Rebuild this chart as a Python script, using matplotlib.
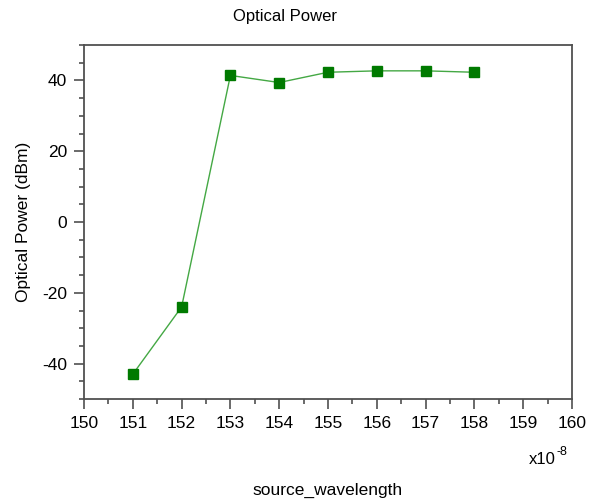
import matplotlib
matplotlib.use("Agg")
import matplotlib.pyplot as plt
from matplotlib.ticker import MultipleLocator

wavelength = [151, 152, 153, 154, 155, 156, 157, 158]
power_dbm = [-43.0, -24.0, 41.4, 39.4, 42.3, 42.7, 42.7, 42.3]
x_ticks = [150, 151, 152, 153, 154, 155, 156, 157, 158, 159, 160]
y_ticks = [-40, -20, 0, 20, 40]

plt.rcParams['font.family'] = ['Liberation Sans', 'DejaVu Sans']
plt.rcParams['axes.unicode_minus'] = False

fig = plt.figure(figsize=(6.02, 5.04), dpi=100)
ax = fig.add_axes([84/602, 1-399/504, (572-84)/602, (399-45)/504])

ax.plot(wavelength, power_dbm, color='#44a844', lw=1.0, zorder=2)
ax.plot(wavelength, power_dbm, ls='none', marker='s', ms=7.5, color='#007a00',
        mec='#007a00', zorder=3, clip_on=False)

ax.set_xlim(150, 160)
ax.set_ylim(-50, 50)
ax.set_xticks(x_ticks)
ax.set_yticks(y_ticks)
ax.xaxis.set_minor_locator(MultipleLocator(0.5))
ax.yaxis.set_minor_locator(MultipleLocator(5))

spine_color = '#505050'
for s in ax.spines.values():
    s.set_color(spine_color)
    s.set_linewidth(1.3)

ax.tick_params(which='major', direction='out', length=7, width=1.2,
               color=spine_color, labelsize=12.5, pad=5)
ax.tick_params(which='minor', direction='out', length=3.5, width=1.2,
               color=spine_color)
ax.tick_params(axis='x', which='both', top=False)
ax.tick_params(axis='y', which='both', right=False)

ax.set_ylabel('Optical Power (dBm)', fontsize=12.5, labelpad=8)
fig.text(328/602, 1-490/504, 'source_wavelength', ha='center', va='center', fontsize=12.5)
fig.text(285/602, 1-17/504, 'Optical Power', ha='center', va='center', fontsize=12)
fig.text(556/602, 1-460/504, 'x10', ha='right', va='center', fontsize=12)
fig.text(556.5/602, 1-452/504, '-8', ha='left', va='center', fontsize=9)

fig.savefig('out.png', dpi=100)
